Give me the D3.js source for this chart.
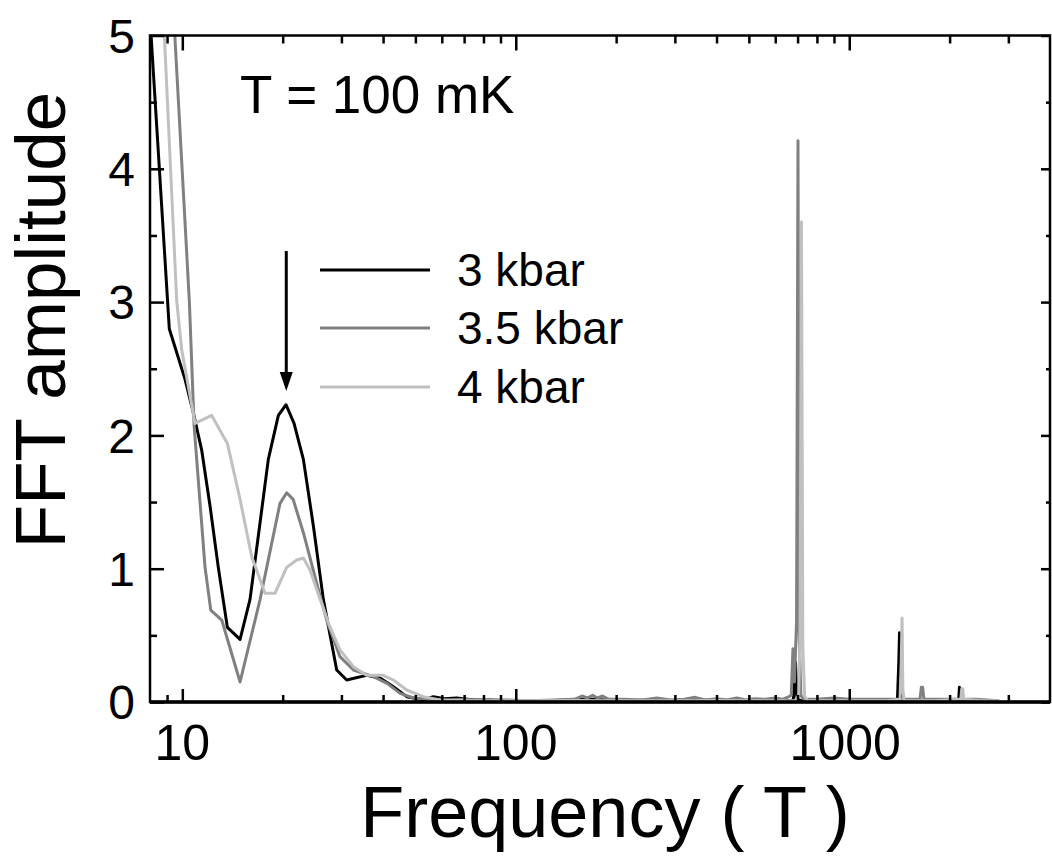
<!DOCTYPE html>
<html><head><meta charset="utf-8">
<script src="https://cdn.jsdelivr.net/npm/d3@7"></script>
<style>body{margin:0;background:#fff}svg{display:block}text{font-family:"Liberation Sans",Arial,sans-serif;fill:#000}</style>
</head><body><svg id="c" width="1052" height="859"></svg>
<script>
// ---- data ----
const seriesNames = ["3 kbar", "3.5 kbar", "4 kbar"];
const seriesColors = ["#000000", "#808080", "#c0c0c0"];

const freq3 = [7.9, 9.14, 10.19, 10.79, 11.43, 12.11, 12.82, 13.65, 14.9, 15.96, 18.11, 19.41, 20.47, 21.63, 23.07, 24.72, 26.48, 29.04, 31.11, 32.95, 35.72, 39.16, 42.95, 47.1, 52.8, 56.6, 61, 66.5, 75, 83.7, 100, 130, 170, 200, 260, 320, 400, 500, 600, 670, 680, 690, 697, 720, 900, 1100, 1300, 1395, 1408, 1415, 1422, 1435, 1700, 2000, 2130, 2140, 2152, 2165, 2500, 2800];
const amp3 = [5.35, 2.80, 2.42, 2.17, 1.89, 1.47, 1.01, 0.56, 0.47, 0.77, 1.82, 2.15, 2.23, 2.09, 1.82, 1.32, 0.77, 0.24, 0.165, 0.18, 0.20, 0.18, 0.115, 0.04, 0.015, 0.04, 0.025, 0.03, 0.015, 0.015, 0.01, 0.012, 0.02, 0.01, 0.015, 0.01, 0.015, 0.01, 0.015, 0.01, 0.02, 0.30, 0.02, 0.01, 0.01, 0.01, 0.01, 0.02, 0.3, 0.52, 0.1, 0.01, 0.01, 0.01, 0.02, 0.11, 0.05, 0.01, 0.01, 0.01];

const freq35 = [9.14, 10.5, 10.85, 11.7, 12.17, 13.13, 14.9, 17.11, 19.63, 20.56, 21.5, 23.07, 25.3, 27.1, 29.7, 32.6, 37.4, 41.1, 45.0, 49.3, 55, 62, 70, 80, 95, 110, 130, 150, 158, 164, 170, 176, 182, 190, 210, 240, 265, 290, 320, 345, 370, 400, 430, 460, 490, 520, 560, 600, 630, 660, 670, 678, 685, 695, 702, 708, 716, 730, 800, 900, 1000, 1100, 1300, 1400, 1630, 1645, 1660, 1675, 1800, 2100, 2400, 2800];
const amp35 = [5.76, 3.0, 2.07, 1.01, 0.69, 0.615, 0.15, 0.77, 1.49, 1.57, 1.52, 1.27, 0.89, 0.615, 0.34, 0.24, 0.19, 0.14, 0.065, 0.03, 0.02, 0.015, 0.02, 0.01, 0.015, 0.01, 0.015, 0.02, 0.045, 0.03, 0.05, 0.03, 0.045, 0.02, 0.02, 0.015, 0.03, 0.015, 0.02, 0.035, 0.015, 0.025, 0.015, 0.03, 0.015, 0.025, 0.02, 0.03, 0.02, 0.04, 0.05, 0.40, 0.15, 0.6, 4.21, 0.5, 0.05, 0.02, 0.02, 0.03, 0.02, 0.02, 0.02, 0.02, 0.02, 0.11, 0.11, 0.02, 0.02, 0.02, 0.02, 0.01];

const freq4 = [8.5, 9.62, 9.96, 10.92, 12.25, 13.65, 14.9, 16.15, 17.7, 18.96, 20.56, 22.03, 23.07, 24.15, 25.9, 27.7, 29.7, 32.6, 35.7, 40.0, 42.95, 47.1, 52.8, 59.3, 70, 100, 150, 200, 300, 400, 500, 600, 690, 705, 712, 719, 726, 735, 750, 900, 1100, 1300, 1420, 1432, 1440, 1448, 1460, 1800, 2160, 2175, 2190, 2205, 2500, 2830];
const amp4 = [5.9, 3.01, 2.64, 2.09, 2.15, 1.94, 1.52, 1.09, 0.815, 0.815, 1.01, 1.065, 1.08, 0.99, 0.77, 0.565, 0.39, 0.265, 0.20, 0.20, 0.165, 0.09, 0.04, 0.015, 0.01, 0.01, 0.012, 0.01, 0.01, 0.012, 0.01, 0.01, 0.012, 0.05, 0.5, 3.60, 0.4, 0.04, 0.01, 0.01, 0.01, 0.01, 0.02, 0.3, 0.63, 0.1, 0.01, 0.01, 0.02, 0.1, 0.1, 0.02, 0.01, 0.01];

const xMajorTicks = [10, 100, 1000];
const xMinorTicks = [9, 20, 30, 40, 50, 60, 70, 80, 90, 200, 300, 400, 500, 600, 700, 800, 900, 2000, 3000];
const yMajorTicks = [0, 1, 2, 3, 4, 5];
const yMinorTicks = [0.5, 1.5, 2.5, 3.5, 4.5];
const xTitle = "Frequency ( T )";
const yTitle = "FFT amplitude";
const annotation = "T = 100 mK";

// ---- chart ----
const svg = d3.select("#c");
const L = 150, R = 1050, T = 35.5, B = 702;
const x = d3.scaleLog().domain([8, 4000]).range([L, R]);
const y = d3.scaleLinear().domain([0, 5]).range([B, T]);

svg.append("defs").append("clipPath").attr("id", "clip")
  .append("rect").attr("x", L).attr("y", T).attr("width", R - L).attr("height", B - T);

const series = [
  {f: freq3, a: amp3},
  {f: freq35, a: amp35},
  {f: freq4, a: amp4}
];
const line = d3.line().x(d => x(d[0])).y(d => y(d[1]));
const g = svg.append("g").attr("clip-path", "url(#clip)");
series.forEach((s, i) => {
  const pts = s.f.map((f, j) => [f, s.a[j]]);
  g.append("path").datum(pts).attr("d", line)
    .attr("fill", "none").attr("stroke", seriesColors[i])
    .attr("stroke-width", 3).attr("stroke-linejoin", "round");
});

// axes
function styleAxis(sel) {
  sel.select(".domain").remove();
  sel.selectAll(".tick line").attr("stroke", "#000").attr("stroke-width", 2.5);
  sel.selectAll(".tick text").remove();
}
svg.append("g").attr("transform", `translate(0,${B})`)
  .call(d3.axisBottom(x).tickValues(xMajorTicks).tickSize(-13)).call(styleAxis);
svg.append("g").attr("transform", `translate(0,${B})`)
  .call(d3.axisBottom(x).tickValues(xMinorTicks).tickSize(-7)).call(styleAxis);
svg.append("g").attr("transform", `translate(0,${T})`)
  .call(d3.axisTop(x).tickValues(xMajorTicks).tickSize(-15)).call(styleAxis);
svg.append("g").attr("transform", `translate(0,${T})`)
  .call(d3.axisTop(x).tickValues(xMinorTicks).tickSize(-8)).call(styleAxis);
svg.append("g").attr("transform", `translate(${L},0)`)
  .call(d3.axisLeft(y).tickValues(yMajorTicks).tickSize(-14)).call(styleAxis);
svg.append("g").attr("transform", `translate(${L},0)`)
  .call(d3.axisLeft(y).tickValues(yMinorTicks).tickSize(-7)).call(styleAxis);
svg.append("g").attr("transform", `translate(${R},0)`)
  .call(d3.axisRight(y).tickValues(yMajorTicks).tickSize(-9)).call(styleAxis);
svg.append("g").attr("transform", `translate(${R},0)`)
  .call(d3.axisRight(y).tickValues(yMinorTicks).tickSize(-4)).call(styleAxis);

// frame
svg.append("rect").attr("x", L).attr("y", T).attr("width", R - L).attr("height", B - T)
  .attr("fill", "none").attr("stroke", "#000").attr("stroke-width", 2.5);
svg.append("line").attr("x1", L).attr("x2", R).attr("y1", B).attr("y2", B)
  .attr("stroke", "#000").attr("stroke-width", 3.5);

// tick labels
svg.append("g").selectAll("text").data(yMajorTicks).join("text")
  .attr("x", 135).attr("y", d => y(d)).attr("dy", "0.36em")
  .attr("text-anchor", "end").attr("font-size", 48).text(d => d);
svg.append("g").selectAll("text").data(xMajorTicks).join("text")
  .attr("x", d => x(d) - (d === 1000 ? 4 : 0)).attr("y", 760)
  .attr("text-anchor", "middle").attr("font-size", 50).text(d => d);

// titles
svg.append("text").attr("x", 605).attr("y", 837).attr("text-anchor", "middle")
  .attr("font-size", 72).text(xTitle);
svg.append("text").attr("transform", "translate(65,320) rotate(-90)")
  .attr("text-anchor", "middle").attr("font-size", 71).text(yTitle);

// annotation
svg.append("text").attr("x", 240).attr("y", 113).attr("font-size", 53).text(annotation);

// legend
const legY = [270, 328, 387];
seriesNames.forEach((n, i) => {
  svg.append("line").attr("x1", 320).attr("x2", 430).attr("y1", legY[i]).attr("y2", legY[i])
    .attr("stroke", seriesColors[i]).attr("stroke-width", 3);
  svg.append("text").attr("x", 457).attr("y", legY[i] + 16).attr("font-size", 46).text(n);
});

// arrow
const ax = x(20.5);
svg.append("line").attr("x1", ax).attr("x2", ax).attr("y1", 251).attr("y2", 375)
  .attr("stroke", "#000").attr("stroke-width", 3);
svg.append("path").attr("d", `M${ax - 6.5},372 L${ax + 6.5},372 L${ax},391 Z`).attr("fill", "#000");
</script>
</body></html>
